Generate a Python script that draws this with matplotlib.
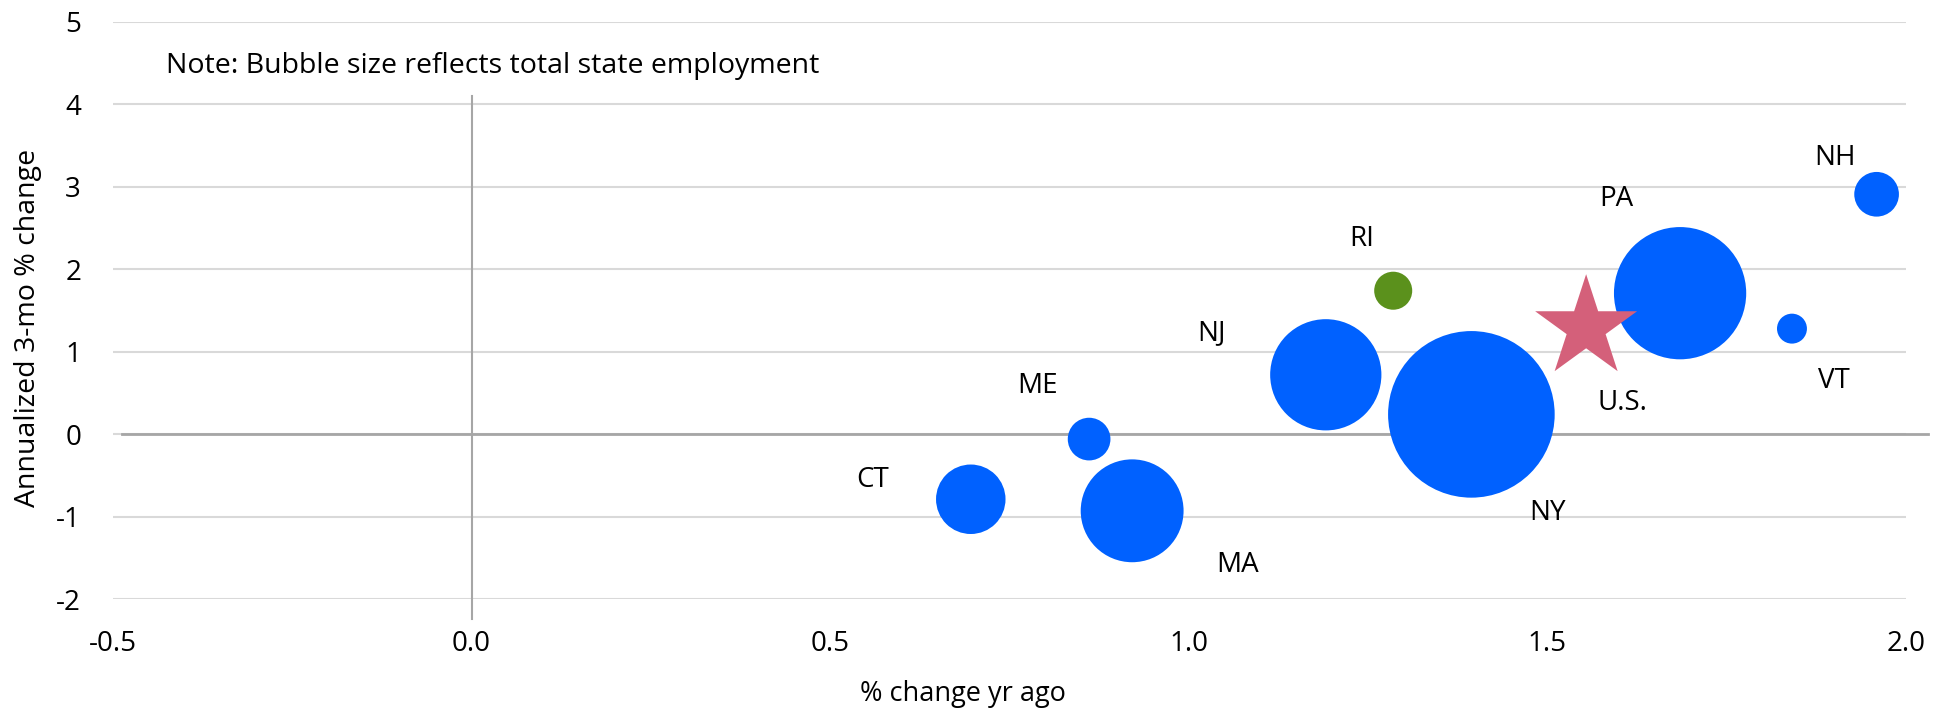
import numpy as np
import matplotlib
matplotlib.use("Agg")
import matplotlib.pyplot as plt

plt.rcParams['font.family'] = ['Open Sans', 'DejaVu Sans']

# ---- data ----
states = ["CT", "ME", "MA", "NJ", "RI", "NY", "PA", "VT", "NH"]
yoy = [0.696, 0.861, 0.921, 1.191, 1.285, 1.394, 1.685, 1.841, 1.959]
ann3 = [-0.79, -0.06, -0.93, 0.72, 1.74, 0.24, 1.71, 1.28, 2.91]
employment = [1670, 630, 3660, 4280, 500, 9600, 6050, 310, 690]  # thousands (approx.)
state_colors = ["#0061FF", "#0061FF", "#0061FF", "#0061FF", "#5B911C",
                "#0061FF", "#0061FF", "#0061FF", "#0061FF"]
us_label = "U.S."
us_yoy = [1.554]
us_ann3 = [1.29]
x_ticks = [-0.5, 0.0, 0.5, 1.0, 1.5, 2.0]
y_ticks = [-2, -1, 0, 1, 2, 3, 4, 5]

# label offsets (points) relative to each marker
label_offsets = {"CT": (-71, 14), "ME": (-37, 38), "MA": (76, -39), "NJ": (-82, 30),
                 "RI": (-23, 37), "NY": (55, -71), "PA": (-46, 68), "VT": (30, -38),
                 "NH": (-30, 26)}
us_offset = (26, -54)

W, H = 1952, 713
fig = plt.figure(figsize=(W / 100, H / 100), dpi=100)
ax = fig.add_axes([113 / W, 1 - 599 / H, (1906 - 113) / W, (599 - 22) / H])

ax.set_xlim(-0.5, 2.0)
ax.set_ylim(-2, 5)
ax.set_xticks(x_ticks)
ax.set_xticklabels([f"{v:.1f}" for v in x_ticks])
ax.set_yticks(y_ticks)
ax.set_yticklabels([str(v) for v in y_ticks])
ax.tick_params(length=0, labelsize=20, colors="#000000")
ax.tick_params(axis="x", pad=22)
ax.tick_params(axis="y", pad=23)
for s in ax.spines.values():
    s.set_visible(False)
ax.grid(axis="y", color="#D9D9D9", linewidth=1.5)
ax.set_axisbelow(True)

# axis lines through zero
ax.axhline(0, xmin=0.005, xmax=1.012, color="#A6A6A6", linewidth=2, clip_on=False, zorder=1)
ax.axvline(0, ymin=-0.035, ymax=(4.1 + 2) / 7, color="#A6A6A6", linewidth=1.5, clip_on=False, zorder=1)

# bubbles: area proportional to employment
emp = np.array(employment, dtype=float)
r_px = 83.3 * np.sqrt(emp / emp.max())
sizes = (2 * r_px * 0.72) ** 2
ax.scatter(yoy, ann3, s=sizes, c=state_colors, edgecolors="none", zorder=3)

# U.S. star
ax.scatter(us_yoy, us_ann3, s=(2 * 53.6 * 0.72) ** 2, marker="*", c="#D4607A",
           edgecolors="none", zorder=4)

for name, xv, yv in zip(states, yoy, ann3):
    ax.annotate(name, (xv, yv), xytext=label_offsets[name], textcoords="offset points",
                ha="center", va="center", fontsize=20, color="#000000")
ax.annotate(us_label, (us_yoy[0], us_ann3[0]), xytext=us_offset, textcoords="offset points",
            ha="center", va="center", fontsize=20, color="#000000")

fig.text(166 / W, 1 - 66 / H, "Note: Bubble size reflects total state employment",
         fontsize=20.5, ha="left", va="center")

ax.set_xlabel("% change yr ago", fontsize=19.5)
ax.xaxis.set_label_coords((963 - 113) / (1906 - 113), -(694 - 599) / (599 - 22))
ax.xaxis.label.set_va("center")
ax.set_ylabel("Annualized 3-mo % change", fontsize=20.5)
ax.yaxis.set_label_coords(-(113 - 28) / (1906 - 113), (599 - 328) / (599 - 22))
ax.yaxis.label.set_va("center")

fig.savefig("out.png", dpi=100)
